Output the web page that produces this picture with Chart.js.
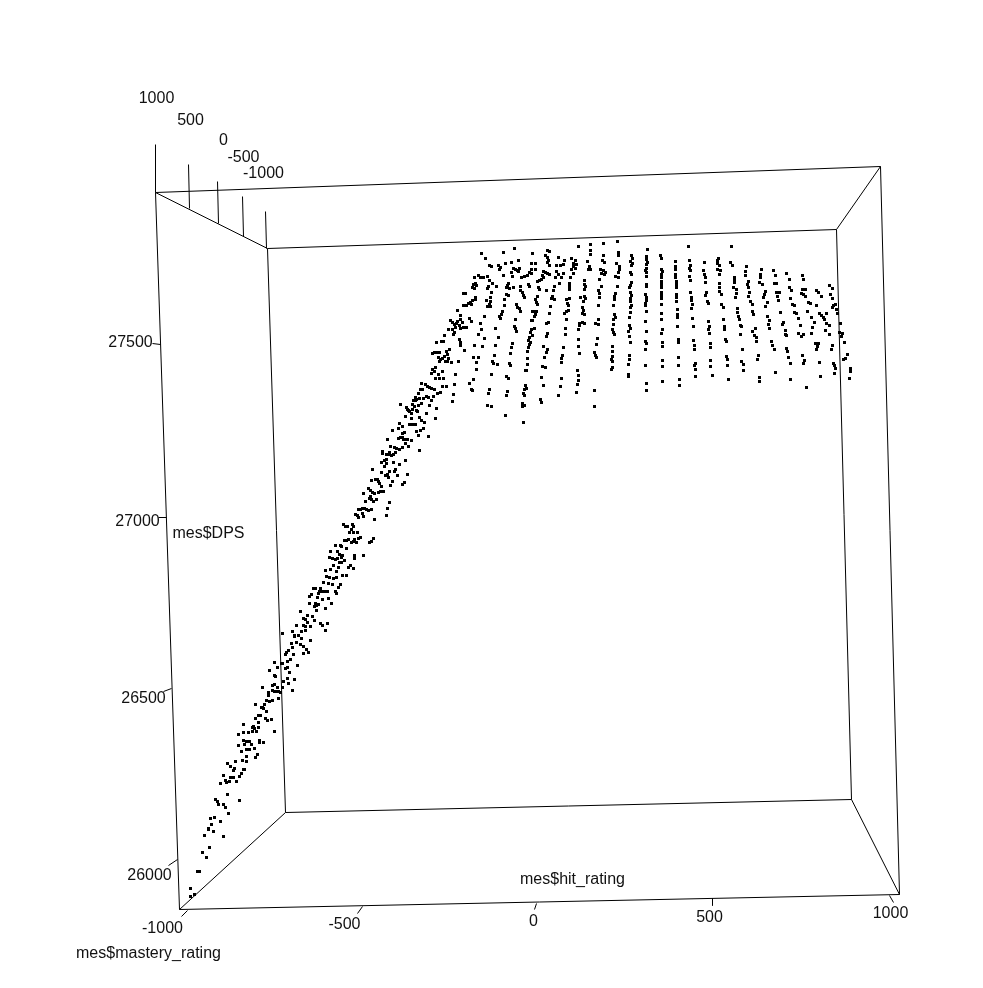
<!DOCTYPE html>
<html>
<head>
<meta charset="utf-8">
<title>mes$DPS</title>
<script src="https://cdn.jsdelivr.net/npm/chart.js@4"></script>
<style>
    html, body { margin: 0; padding: 0; background: #fff; }
    canvas { display: block; }
</style>
</head>
<body>
<canvas id="cloud" width="983" height="988"></canvas>
<script>
// Tick labels of the three axes
const hitTickLabels = ['-1000', '-500', '0', '500', '1000'];
const masteryTickLabels = ['1000', '500', '0', '-500', '-1000'];
const dpsTickLabels = ['27500', '27000', '26500', '26000'];
const axisTitles = ['mes$hit_rating', 'mes$mastery_rating', 'mes$DPS'];

const lowerSlope = [
    [190,888],[190,896],[194,894],[197,871],[199,871],[202,852],[206,857],[209,847],[204,835],[208,828],
    [208,829],[213,831],[223,836],[211,824],[210,818],[214,817],[220,821],[228,813],[218,804],[223,804],
    [225,807],[215,799],[217,801],[227,794],[239,800],[220,783],[223,775],[225,780],[226,782],[229,781],
    [230,777],[232,777],[233,777],[236,781],[239,776],[241,773],[243,769],[244,769],[227,763],[230,766],
    [233,770],[234,768],[235,761],[242,760],[246,761],[246,756],[241,751],[238,745],[244,744],[243,740],
    [246,741],[249,741],[251,744],[246,749],[248,749],[249,749],[254,748],[257,754],[255,757],[259,740],
    [259,742],[263,742],[238,734],[243,732],[243,724],[248,732],[252,727],[253,726],[254,728],[252,731],
    [256,731],[258,727],[258,722],[255,718],[258,715],[260,715],[265,718],[267,720],[271,719],[274,731],
    [261,707],[262,707],[264,704],[255,704],[263,708],[266,711],[266,700],[269,701],[272,700],[278,698],
    [268,695],[268,692],[262,687],[272,685],[274,684],[277,687],[272,690],[274,691],[276,691],[278,691],
    [280,692],[282,687],[283,681],[287,678],[288,683],[292,690],[294,679],[269,670],[274,675],[275,676],
    [274,662],[277,667],[281,663],[282,663],[285,668],[287,667],[287,661],[290,659],[289,672],[297,665],
    [285,654],[286,652],[288,650],[293,654],[282,633],[292,631],[294,635],[294,636],[298,635],[301,631],
    [305,630],[291,643],[292,647],[296,642],[300,644],[303,646],[306,649],[308,652],[303,653],[310,640],
    [301,638],[296,625],[303,625],[305,626],[310,626],[307,622],[314,620],[320,623],[322,625],[327,623],
    [325,630]
];
const middleSlope = [
    [421,383],[425,384],[427,386],[429,387],[431,388],[434,389],[442,386],[446,386],[454,384],[420,389],
    [422,389],[418,393],[453,394],[440,392],[437,393],[433,396],[426,396],[428,397],[431,400],[423,398],
    [419,398],[415,397],[416,399],[413,400],[415,400],[452,401],[421,403],[400,404],[412,404],[418,405],
    [429,405],[414,406],[406,407],[407,409],[408,410],[409,411],[412,409],[416,410],[417,411],[436,408],
    [411,413],[426,413],[405,416],[411,418],[419,417],[421,420],[424,422],[435,418],[399,423],[402,426],
    [398,428],[409,424],[411,424],[413,424],[415,424],[423,428],[420,430],[416,431],[392,430],[404,432],
    [402,433],[418,435],[428,436],[387,439],[398,438],[400,437],[402,437],[403,439],[405,439],[407,439],
    [411,440],[405,443],[408,446],[390,446],[402,447],[394,447],[396,448],[399,449],[419,450],[382,451],
    [382,453],[386,454],[388,454],[389,452],[391,455],[393,454],[395,452],[381,462],[384,460],[386,459],
    [386,463],[384,466],[393,462],[399,464],[405,460],[372,469],[381,472],[395,469],[394,471],[389,471],
    [387,474],[385,475],[388,477],[397,475],[407,474],[371,480],[375,479],[377,479],[378,481],[379,483],
    [381,486],[392,481],[390,485],[404,482],[402,484],[368,488],[370,490],[372,492],[374,493],[378,492],
    [380,491],[383,491],[363,493],[370,496],[369,498],[371,499],[376,499],[373,501],[365,501],[389,502],
    [358,509],[360,509],[362,508],[364,508],[366,509],[368,510],[371,509],[387,508],[355,514],[357,515],
    [358,517],[362,513],[363,516],[386,515],[374,519],[343,524],[345,526],[347,526],[352,524],[353,526],
    [351,529],[349,532],[353,532],[357,532],[360,537],[358,538],[344,540],[346,540],[348,539],[351,542],
    [353,541],[354,539],[356,542],[373,538],[371,541],[369,542],[335,545],[340,545],[341,546],[346,548],
    [330,551],[337,551],[339,554],[341,555],[342,555],[354,555],[354,558],[363,555],[329,557],[332,558],
    [335,559],[337,558],[341,557],[344,560],[339,562],[341,562],[333,565],[338,567],[350,565],[348,567],
    [353,568],[325,570],[330,569],[336,571],[342,575],[346,575],[326,576],[329,577],[333,578],[336,577],
    [323,582],[328,583],[332,584],[340,584],[338,587],[313,588],[315,588],[320,588],[319,591],[322,591],
    [325,591],[327,591],[335,591],[336,593],[318,593],[311,594],[309,596],[317,597],[322,599],[328,598],
    [309,603],[315,603],[316,605],[318,604],[314,606],[331,603],[316,610],[325,608],[300,611],[307,615],
    [312,616],[303,618],[305,619]
];
const ridgeLeft = [
    [578,246],[590,244],[603,243],[617,241],[481,253],[503,252],[514,248],[532,253],[547,250],[549,251],
    [545,255],[547,257],[548,260],[547,262],[549,265],[590,250],[590,254],[603,255],[602,260],[604,262],
    [618,252],[618,255],[616,263],[619,266],[619,269],[618,272],[631,255],[632,258],[630,261],[632,263],
    [631,265],[485,258],[489,265],[491,266],[498,265],[500,267],[499,269],[505,263],[511,262],[518,260],
    [531,263],[535,263],[558,257],[564,260],[556,265],[560,265],[563,264],[571,258],[575,260],[573,263],
    [576,264],[573,266],[571,269],[575,268],[587,261],[589,266],[588,269],[590,269],[513,268],[515,269],
    [517,270],[519,268],[518,271],[531,269],[535,269],[529,272],[511,272],[512,276],[503,275],[521,277],
    [524,276],[527,275],[531,273],[543,271],[545,272],[547,273],[549,274],[542,275],[543,277],[541,279],
    [539,280],[537,281],[556,271],[558,274],[555,277],[563,273],[561,277],[570,277],[573,273],[600,269],
    [603,270],[605,272],[601,273],[604,274],[615,276],[618,277],[630,272],[631,274],[631,282],[630,285],
    [629,287],[474,277],[478,275],[480,277],[483,277],[487,276],[489,280],[492,283],[496,286],[473,284],
    [475,283],[472,287],[474,288],[476,285],[488,286],[487,288],[508,283],[507,285],[506,287],[509,288],
    [513,287],[520,286],[528,284],[529,286],[538,287],[539,289],[546,290],[554,286],[559,283],[553,290],
    [569,283],[569,286],[569,289],[584,280],[584,284],[585,286],[584,289],[599,279],[601,286],[598,290],
    [599,293],[617,286],[463,293],[465,293],[475,297],[475,299],[472,300],[470,302],[468,303],[466,305],
    [463,305],[471,304],[491,292],[490,297],[490,301],[486,300],[489,304],[487,306],[490,306],[506,294],
    [508,295],[504,299],[504,305],[520,290],[522,292],[523,295],[524,297],[537,296],[535,299],[536,302],
    [537,304],[552,296],[551,298],[554,299],[550,306],[569,298],[566,299],[567,303],[568,305],[584,296],
    [580,297],[585,298],[583,301],[599,297],[598,305],[615,293],[614,296],[614,299],[613,305],[630,292],
    [631,295],[630,298],[630,301],[631,305],[630,307]
];
const ridgeLower = [
    [516,304],[517,307],[519,308],[520,311],[532,311],[534,311],[536,311],[535,314],[534,316],[502,311],
    [501,314],[499,316],[500,318],[484,316],[457,310],[460,315],[469,318],[471,321],[460,319],[457,321],
    [450,320],[452,322],[454,324],[456,323],[462,322],[459,325],[455,327],[463,327],[460,328],[466,327],
    [452,329],[448,329],[454,332],[453,334],[549,313],[564,313],[566,311],[568,310],[582,307],[583,310],
    [582,313],[584,314],[614,314],[615,317],[613,319],[630,312],[629,317],[531,320],[532,320],[515,319],
    [548,322],[546,323],[566,319],[579,323],[582,322],[584,323],[579,325],[598,319],[595,323],[598,324],
    [613,324],[612,329],[613,332],[629,325],[630,328],[628,331],[480,323],[495,328],[514,326],[515,328],
    [516,331],[534,328],[531,329],[530,332],[532,335],[529,337],[481,329],[478,334],[484,338],[498,337],
    [547,333],[546,336],[565,328],[565,334],[578,329],[614,334],[629,336],[597,338],[444,335],[436,342],
    [441,341],[443,341],[459,339],[460,342],[460,345],[474,345],[482,346],[495,345],[512,343],[511,347],
    [528,340],[530,342],[529,344],[528,347],[527,351],[543,346],[547,349],[563,347],[578,339],[578,346],
    [596,344],[630,342],[449,349],[464,350],[432,353],[434,352],[437,352],[439,352],[446,351],[447,354],
    [510,353],[546,352],[544,357],[579,353],[594,352],[595,355],[596,357],[612,346],[612,351],[612,356],
    [629,355],[438,357],[440,359],[442,358],[444,356],[448,358],[439,361],[445,361],[447,361],[451,362],
    [458,361],[473,357],[478,357],[494,355],[476,362],[492,361],[493,363],[497,364],[509,363],[510,365],
    [527,358],[527,364],[562,355],[561,358],[561,362],[611,359],[612,361],[629,359],[628,364],[542,366],
    [545,367],[612,367],[611,369],[435,367],[432,369],[434,371],[431,373],[442,371],[438,374],[435,378],
    [439,378],[443,378],[455,374],[476,369],[491,374],[506,376],[508,378],[525,370],[526,370],[577,370],
    [578,375],[628,374],[628,376],[541,377],[561,378],[473,379],[469,383],[471,389],[472,390],[489,389],
    [488,393],[507,391],[506,395],[525,385],[526,388],[524,389],[523,393],[524,395],[543,385],[560,386],
    [578,380],[577,384],[594,390],[576,392],[558,395],[540,399],[541,402],[487,405],[491,406],[522,403],
    [524,405],[522,406],[594,406],[505,415],[523,422]
];
const plateauNear = [
    [647,249],[646,256],[646,259],[647,262],[646,264],[646,268],[645,270],[646,272],[646,276],[646,284],
    [646,286],[645,294],[646,297],[646,300],[645,303],[645,305],[646,311],[645,321],[646,331],[645,341],
    [646,343],[645,349],[645,365],[646,383],[646,390],[660,255],[661,258],[661,269],[662,271],[661,274],
    [661,277],[661,281],[661,284],[661,287],[661,292],[661,295],[661,298],[661,304],[661,313],[661,319],
    [662,329],[661,333],[662,342],[662,346],[662,360],[662,366],[662,381],[675,261],[675,266],[675,269],
    [675,274],[675,277],[676,281],[676,284],[676,287],[676,294],[676,297],[676,301],[677,309],[677,314],
    [677,317],[677,326],[678,339],[678,342],[678,357],[678,365],[679,379],[679,385],[688,246],[689,260],
    [690,265],[689,268],[690,270],[689,276],[690,280],[690,292],[691,297],[691,300],[692,304],[691,308],
    [692,318],[693,326],[693,340],[694,345],[694,349],[695,363],[694,365],[695,369],[695,376],[704,262],
    [703,270],[704,274],[705,277],[705,282],[706,292],[705,295],[707,301],[708,303],[708,321],[709,326],
    [708,329],[709,333],[710,343],[710,347],[710,360],[710,366],[712,375],[718,258],[717,260],[717,263],
    [719,265],[717,269],[720,270],[719,274],[719,283],[719,287],[719,291],[721,294],[721,304],[723,307],
    [723,319],[724,326],[724,329],[725,339],[726,341],[726,356],[727,359],[727,365],[728,379]
];
const plateauFar = [
    [731,246],[730,262],[732,265],[734,277],[734,280],[734,282],[733,287],[736,289],[736,293],[735,297],
    [737,308],[737,312],[738,316],[739,319],[740,325],[741,326],[740,334],[742,349],[741,361],[743,364],
    [743,370],[746,266],[745,271],[745,275],[748,281],[747,284],[748,287],[749,292],[748,296],[750,301],
    [752,304],[752,311],[753,314],[755,328],[752,331],[754,335],[756,337],[756,341],[758,355],[757,359],
    [759,377],[759,381],[761,269],[760,274],[760,277],[759,282],[762,284],[765,291],[764,294],[763,297],
    [767,302],[765,306],[767,316],[769,320],[768,324],[769,328],[771,341],[772,345],[774,349],[775,372],
    [773,270],[775,275],[774,283],[776,283],[776,292],[779,292],[777,296],[778,300],[780,312],[783,322],
    [782,324],[785,330],[785,334],[786,335],[786,348],[787,351],[788,357],[790,363],[790,379],[786,273],
    [789,279],[789,287],[791,290],[790,298],[792,304],[794,305],[794,312],[796,313],[798,318],[800,325],
    [798,333],[801,336],[803,334],[802,355],[804,360],[803,363],[806,387],[802,275],[803,279],[802,289],
    [805,289],[801,293],[803,294],[805,296],[808,302],[810,303],[807,311],[811,317],[814,322],[812,327],
    [811,333],[816,290],[818,292],[816,305],[815,343],[818,343],[817,346],[816,349],[819,362],[820,376],
    [821,296],[819,313],[821,315],[823,317],[824,319],[826,313],[826,323],[829,325],[825,330],[829,334],
    [832,345],[831,349],[833,363],[834,365],[835,368],[834,373],[829,285],[832,288],[830,294],[832,298],
    [833,305],[832,307],[835,304],[836,309],[837,313],[840,323],[839,332],[841,336],[842,333],[844,342],
    [847,354],[845,358],[843,359],[850,368],[850,371],[849,378]
];

// Layout of the projected box: each edge or tick runs from [x1, y1] to [x2, y2]
const boxEdges = [
    [155,192,880,166],[880,166,899,894],[899,894,179,909],[179,909,155,192],
    [267,248,836,229],[836,229,851,799],[851,799,285,812],[285,812,267,248],
    [155,192,267,248],[880,166,836,229],[899,894,851,799],[179,909,285,812]
];
const tickMarks = [
    [187,910,181,916],[362,906,357,913],[536,903,534,909],[712,898,712,905],[889,895,893,902],
    [155,192,155,144],[189,208,188,164],[218,223,217,181],[243,236,242,196],[266,248,265,211],
    [160,344,152,343],[166,517,158,517],[171,688,163,691],[177,859,168,865]
];
const hitLabelSpots = [[162,928],[344,924],[533,921],[709,917],[890,913]];
const masteryLabelSpots = [[156,98],[190,120],[223,140],[243,157],[263,173]];
const dpsLabelSpots = [[130,342],[137,521],[143,698],[149,875]];
const titleSpots = [[572,879],[148,953],[208,533]];

const inkColor = '#000000';
const textColor = '#111111';

function toPoints(pairs) {
    return pairs.map(p => ({ x: p[0], y: p[1] }));
}

function segmentDataset(s) {
    return {
        type: 'scatter',
        data: [{ x: s[0], y: s[1] }, { x: s[2], y: s[3] }],
        showLine: true,
        borderColor: inkColor,
        borderWidth: 1,
        pointRadius: 0
    };
}

// The axis and title text of the box
const boxLabels = {
    id: 'boxLabels',
    afterDraw(chart) {
        const ctx = chart.ctx;
        const put = (text, spot) => {
            ctx.fillText(text, chart.scales.x.getPixelForValue(spot[0]), chart.scales.y.getPixelForValue(spot[1]));
        };
        ctx.save();
        ctx.font = '16px "Liberation Sans", Arial, sans-serif';
        ctx.fillStyle = textColor;
        ctx.textAlign = 'center';
        ctx.textBaseline = 'middle';
        hitTickLabels.forEach((t, i) => put(t, hitLabelSpots[i]));
        masteryTickLabels.forEach((t, i) => put(t, masteryLabelSpots[i]));
        dpsTickLabels.forEach((t, i) => put(t, dpsLabelSpots[i]));
        axisTitles.forEach((t, i) => put(t, titleSpots[i]));
        ctx.restore();
    }
};

const cloud = [lowerSlope, middleSlope, ridgeLeft, ridgeLower, plateauNear, plateauFar].map(pairs => ({
    type: 'scatter',
    data: toPoints(pairs),
    pointStyle: 'rect',
    pointRadius: 2.1214,
    pointBorderWidth: 0,
    pointBackgroundColor: inkColor
}));

new Chart(document.getElementById('cloud').getContext('2d'), {
    type: 'scatter',
    data: {
        datasets: [...boxEdges.map(segmentDataset), ...tickMarks.map(segmentDataset), ...cloud]
    },
    options: {
        responsive: false,
        animation: false,
        layout: { padding: 0, autoPadding: false },
        scales: {
            x: { type: 'linear', display: false, min: -0.5, max: 982.5 },
            y: { type: 'linear', display: false, min: -0.5, max: 987.5, reverse: true }
        },
        plugins: {
            legend: { display: false },
            tooltip: { enabled: false },
            title: { display: false }
        }
    },
    plugins: [boxLabels]
});
</script>
</body>
</html>
